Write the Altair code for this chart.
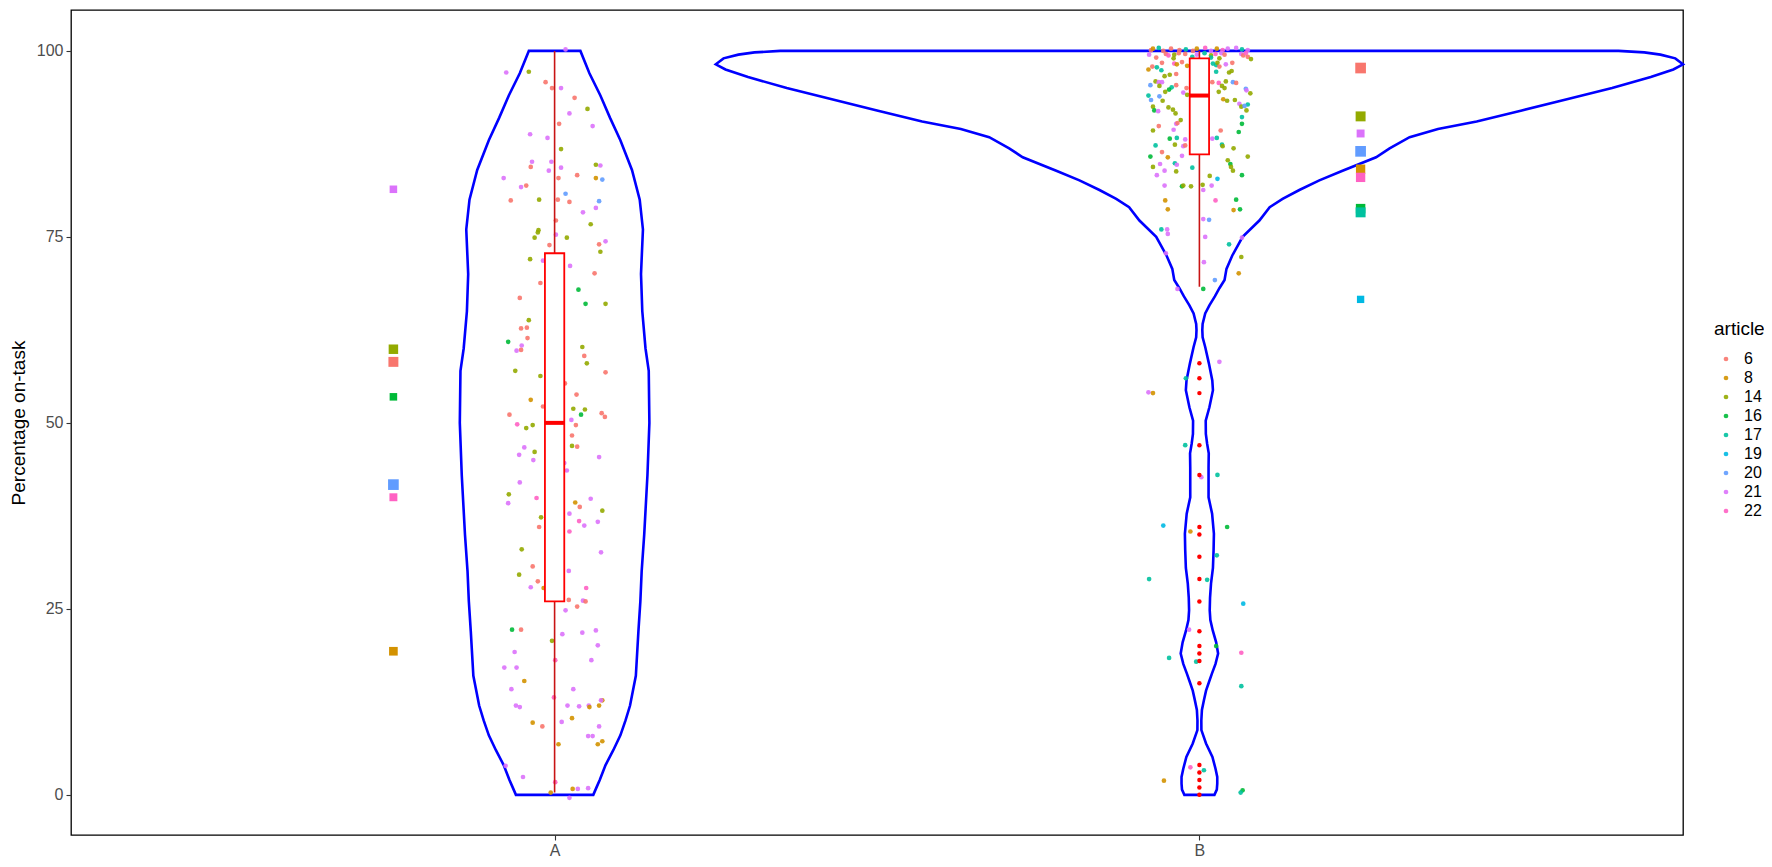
import altair as alt
import pandas as pd

# ---------------- data ----------------
ARTICLES = ["6", "8", "14", "16", "17", "19", "20", "21", "22"]
PALETTE = ["#F8766D", "#D39200", "#93AA00", "#00BA38", "#00C19F",
           "#00B9E3", "#619CFF", "#DB72FB", "#FF61C3"]
GROUPS = ["A", "B"]
GROUP_POS = [1, 2]

# jittered observations, group A
A_value = [100.2, 97.1, 97.2, 95.8, 95.0, 95.0, 93.7, 92.2, 91.6, 90.2, 89.9, 88.8, 88.3, 86.8,
           85.1, 85.1, 84.4, 84.7, 84.6, 83.9, 84.3, 82.9, 82.9, 83.3, 82.9, 82.7, 81.7, 81.9,
           79.9, 80.0, 80.8, 80.0, 79.7, 79.8, 78.3, 78.9, 77.2, 76.7, 75.9, 75.6, 74.9, 75.3,
           74.9, 73.9, 74.0, 74.4, 73.0, 72.0, 71.8, 71.1, 70.1, 68.8, 67.9, 66.8, 66.0, 66.0,
           63.8, 62.7, 62.8, 61.4, 60.9, 60.4, 59.7, 59.8, 60.2, 59.0, 58.0, 57.0, 56.8, 56.3,
           55.3, 53.8, 53.1, 52.2, 51.9, 51.8, 51.1, 51.3, 50.8, 51.1, 49.8, 49.3, 49.7, 50.4,
           49.7, 48.3, 46.9, 46.8, 46.7, 46.1, 45.7, 45.0, 45.4, 44.6, 43.6, 42.0, 40.4, 39.2,
           39.9, 39.8, 39.3, 38.7, 38.2, 37.8, 37.3, 36.8, 36.7, 36.2, 36.0, 35.4, 33.0, 32.6,
           30.7, 30.1, 29.6, 28.7, 27.9, 27.8, 27.8, 26.2, 26.1, 26.0, 25.3, 24.8, 22.2, 22.2,
           21.6, 21.8, 22.1, 20.7, 20.1, 19.2, 18.1, 18.1, 17.1, 17.1, 15.3, 14.2, 14.2, 13.1,
           12.0, 11.8, 12.0, 11.9, 12.0, 11.8, 12.0, 12.7, 12.7, 10.3, 9.7, 9.2, 9.8, 9.2,
           6.8, 7.9, 7.9, 6.8, 7.2, 3.9, 2.4, 1.7, 0.3, 0.8, 0.8, 0.9, -0.4]
A_jitter = [0.017, -0.075, -0.040, -0.014, -0.004, 0.010, 0.031, 0.051, 0.023, 0.007, 0.059, -0.038, -0.011, 0.010,
            -0.035, -0.005, -0.037, 0.064, 0.071, -0.009, 0.010, -0.079, 0.006, 0.035, 0.064, 0.074, -0.052, -0.044,
            -0.068, -0.024, 0.017, 0.005, 0.023, 0.069, 0.044, 0.064, 0.002, 0.056, -0.025, -0.026, -0.031, 0.002,
            0.019, -0.008, 0.069, 0.079, 0.071, -0.038, -0.018, 0.024, 0.062, -0.022, 0.037, -0.054, 0.048, 0.079,
            -0.040, -0.052, -0.043, -0.042, -0.072, -0.051, -0.059, -0.052, 0.043, 0.046, 0.050, -0.061, 0.079, -0.022,
            0.016, 0.034, -0.037, -0.018, 0.029, 0.047, 0.041, 0.073, 0.078, -0.070, -0.058, -0.044, -0.034, 0.026,
            0.033, 0.027, 0.027, 0.035, -0.047, -0.031, -0.055, -0.033, 0.069, 0.015, 0.019, -0.054, -0.071, -0.072,
            -0.028, 0.056, 0.032, 0.039, 0.074, 0.023, -0.021, 0.038, 0.067, 0.046, -0.024, 0.023, -0.051, 0.072,
            -0.034, 0.022, -0.055, -0.026, -0.037, -0.017, 0.049, 0.022, 0.044, 0.048, 0.035, 0.017, -0.066, -0.052,
            0.012, 0.043, 0.064, -0.004, 0.067, -0.062, 0.001, 0.057, -0.078, -0.059, -0.047, -0.067, 0.029, -0.001,
            -0.060, -0.054, 0.020, 0.038, 0.053, 0.054, 0.069, 0.074, 0.072, 0.027, -0.034, -0.019, 0.011, 0.069,
            0.006, 0.052, 0.059, 0.067, 0.074, -0.076, -0.049, 0.001, -0.006, 0.028, 0.036, 0.052, 0.023]
A_article = ["21", "21", "14", "6", "6", "21", "6", "14", "21", "6", "21", "21", "21", "14",
             "21", "21", "6", "14", "21", "21", "21", "21", "6", "6", "8", "20", "21", "6",
             "6", "14", "20", "6", "6", "20", "21", "21", "6", "14", "14", "14", "14", "21",
             "14", "6", "6", "21", "14", "14", "21", "21", "6", "6", "16", "6", "16", "14",
             "14", "6", "6", "6", "16", "21", "21", "6", "14", "6", "14", "14", "6", "14",
             "6", "6", "8", "6", "14", "14", "16", "6", "6", "6", "22", "14", "14", "21",
             "6", "6", "14", "6", "21", "14", "21", "21", "21", "21", "21", "21", "14", "21",
             "22", "21", "8", "6", "14", "21", "14", "22", "21", "21", "6", "22", "14", "21",
             "6", "21", "14", "6", "21", "8", "22", "6", "21", "6", "6", "21", "16", "6",
             "21", "21", "21", "14", "21", "21", "22", "21", "21", "21", "8", "21", "21", "22",
             "21", "21", "21", "21", "21", "8", "8", "8", "21", "8", "8", "6", "21", "21",
             "8", "21", "21", "8", "8", "21", "21", "22", "8", "8", "21", "21", "21"]

# jittered observations, group B
B_value = [100.1, 100.3, 100.4, 100.0, 100.3, 100.1, 100.2, 100.0, 100.3, 100.4, 100.0, 100.3, 100.1, 100.3, 100.4, 100.2, 100.1,
           99.5, 99.6, 99.4, 99.5, 99.7, 99.6, 99.5, 99.7, 99.4, 99.6, 99.7, 99.5, 99.6, 99.4, 99.7,
           99.1, 99.0, 99.2, 99.1, 99.0, 99.2, 98.9,
           98.4, 98.3, 98.2, 98.5, 98.3, 98.1, 98.4, 98.2, 98.4,
           97.9, 97.8, 98.0, 97.9, 97.5, 97.4, 97.2, 97.1, 97.3, 96.9, 96.8, 96.6,
           95.9, 95.8, 95.8, 95.8, 95.7, 95.9, 95.8, 95.7, 95.4, 95.3, 95.4, 95.3,
           95.1, 95.0, 95.1, 95.0, 94.8, 94.9, 94.7, 94.5, 94.4, 94.5, 94.3, 94.0, 93.9, 94.1,
           93.4, 93.3, 93.5, 93.3, 93.4, 92.9, 92.8, 92.5, 92.4, 92.5, 92.6, 92.0, 91.9, 92.1, 92.0,
           91.6, 91.1, 90.7, 90.2, 90.3, 90.2, 89.9, 89.3, 89.4, 89.3, 89.1,
           88.2, 88.3, 88.1, 88.2, 88.3, 87.3, 87.4, 87.2, 87.3, 87.4, 87.2, 86.9, 86.4,
           85.8, 85.7, 85.9, 85.8, 85.3, 84.8, 84.9, 84.7, 84.8, 84.4, 84.3, 84.4, 83.9, 83.8, 83.9,
           83.3, 83.2, 83.3, 82.8, 81.9, 81.8, 81.9, 81.8, 82.0, 81.9, 81.3, 79.9, 79.9, 80.0,
           78.7, 78.6, 78.7, 77.4, 77.3, 76.0, 76.0, 75.4, 75.0, 74.9, 74.0, 72.8, 72.3, 71.6,
           70.1, 69.2, 68.0, 68.0,
           58.2, 56.0, 54.1, 54.0, 47.0, 42.7, 43.0, 36.2, 35.4, 36.0, 32.2, 29.0, 28.9, 25.7,
           22.2, 20.0, 19.1, 18.4, 17.9, 14.6, 3.7, 3.3, 1.9, 0.6, 0.3]
B_jitter = [-0.075, -0.072, -0.063, -0.056, -0.044, -0.031, -0.021, -0.010, -0.004, 0.009, 0.018, 0.027, 0.036, 0.044, 0.057, 0.066, 0.075,
            -0.078, -0.052, -0.048, -0.039, -0.032, -0.022, -0.004, 0.008, 0.018, 0.025, 0.034, 0.039, 0.065, 0.068, 0.072,
            -0.067, -0.040, -0.011, 0.018, 0.031, 0.075, 0.080,
            -0.058, -0.039, -0.035, -0.027, 0.021, 0.026, 0.028, 0.041, 0.051,
            -0.073, -0.066, -0.019, 0.031, -0.079, -0.059, 0.026, 0.046, 0.050, -0.036, -0.046, -0.054,
            -0.068, -0.063, -0.058, 0.020, 0.030, 0.041, 0.052, 0.057, -0.076, -0.062, -0.036, 0.035,
            -0.043, -0.020, -0.008, 0.039, -0.047, 0.072, 0.073, -0.053, -0.025, 0.030, 0.079, -0.079, -0.062, -0.019,
            -0.075, -0.057, 0.037, 0.043, 0.055, 0.062, 0.075, -0.072, -0.048, 0.065, 0.070, -0.070, -0.064, -0.041, 0.073,
            -0.037, 0.066, -0.029, -0.036, -0.034, 0.066, -0.063, -0.072, -0.040, 0.033, 0.061,
            -0.046, -0.035, -0.022, 0.020, 0.027, -0.068, -0.038, -0.025, -0.022, 0.035, 0.036, 0.053, -0.058,
            -0.076, -0.049, -0.027, 0.075, 0.044, -0.061, -0.038, -0.035, 0.048, -0.072, -0.011, 0.049, -0.054, -0.036, 0.052,
            -0.066, 0.016, 0.066, 0.028, -0.054, -0.027, -0.025, -0.013, 0.005, 0.019, 0.006, -0.053, 0.025, 0.057,
            -0.049, 0.053, 0.063, 0.006, 0.015, -0.059, -0.050, -0.049, 0.009, 0.066, 0.046, -0.052, 0.065, 0.007,
            0.061, 0.024, -0.034, 0.006,
            0.031, -0.021, -0.079, -0.072, -0.022, 0.003, 0.028, -0.056, -0.014, 0.043, 0.027, -0.078, 0.012, 0.068,
            -0.016, 0.026, 0.065, -0.047, -0.005, 0.065, -0.014, 0.007, -0.055, 0.067, 0.064]
B_article = ["6", "8", "17", "6", "6", "6", "17", "6", "8", "22", "21", "8", "22", "21", "21", "17", "21",
             "21", "6", "22", "14", "6", "6", "21", "17", "14", "22", "21", "6", "21", "6", "22",
             "6", "14", "17", "17", "14", "6", "14",
             "6", "22", "8", "6", "17", "17", "14", "21", "6",
             "6", "17", "8", "6", "8", "17", "17", "14", "14", "6", "14", "14",
             "14", "21", "21", "6", "22", "14", "20", "6", "20", "14", "6", "14",
             "17", "6", "6", "14", "16", "20", "21", "14", "21", "14", "14", "17", "20", "14",
             "20", "14", "8", "14", "14", "21", "17", "14", "14", "14", "20", "16", "21", "14", "14",
             "14", "17", "14", "21", "6", "16", "6", "14", "21", "6", "16",
             "16", "17", "21", "21", "17", "17", "14", "21", "6", "17", "14", "14", "6",
             "16", "8", "21", "14", "14", "21", "17", "21", "16", "14", "17", "14", "21", "14", "14",
             "21", "14", "16", "19", "21", "16", "14", "14", "14", "21", "21", "8", "22", "16",
             "8", "8", "16", "21", "20", "17", "21", "21", "21", "21", "17", "21", "14", "21",
             "8", "20", "21", "16",
             "21", "17", "21", "8", "17", "21", "17", "19", "8", "16", "17", "17", "17", "19",
             "21", "16", "22", "17", "17", "17", "22", "17", "8", "16", "17"]

# boxplot statistics per group (A, B)
BOX_Q1 = [26.0, 86.1]
BOX_MED = [50.0, 94.0]
BOX_Q3 = [72.8, 99.0]
BOX_LO = [0.3, 68.3]
BOX_HI = [100.0, 100.0]
B_OUTLIERS = [58, 56, 54, 47, 43, 36, 35, 32, 29, 26, 22, 20, 19, 18, 15, 4, 3, 2, 1, 0]

# violin outlines: value levels and half-widths (density, in x units)
VA_y = [0, 1, 2, 4, 6, 8, 10, 12, 16, 22, 26, 30, 35, 43, 50, 57, 60, 65, 70, 76, 80, 84, 88, 91, 94, 97, 100]
VA_w = [0.060, 0.065, 0.070, 0.079, 0.091, 0.102, 0.110, 0.117, 0.126, 0.130, 0.133, 0.135, 0.139, 0.144,
        0.147, 0.146, 0.141, 0.136, 0.134, 0.137, 0.132, 0.120, 0.102, 0.086, 0.071, 0.054, 0.040]
VB_y = [0, 0.7, 1.5, 2.4, 3.5, 5.1, 6.9, 8.7, 10, 11.4, 12.7, 14, 15.2, 16.3, 17.6, 19, 20.5, 22.1, 23.5,
        24.8, 26.5, 28.4, 30.5, 32.9, 35.1, 37.8, 40, 42.3, 44, 45.9, 47.2, 48.5, 50.3, 52.1, 54.4, 55.7,
        58, 60.2, 61.5, 62.5, 63.3, 64.7, 65.8, 67, 68.1, 69.2, 70.7, 72.5, 75, 77.2, 79, 80.1, 81.3,
        82.6, 83.9, 85.7, 86.9, 88.4, 89.5, 90.5, 92, 93.5, 95, 96.5, 97.5, 98.2, 99, 99.5, 99.8, 100]
VB_w = [0.0233, 0.027, 0.0277, 0.0277, 0.025, 0.0202, 0.0103, 0.0031, 0.0030, 0.0039, 0.007, 0.0103,
        0.015, 0.0194, 0.025, 0.029, 0.026, 0.0207, 0.017, 0.016, 0.0165, 0.018, 0.021, 0.022, 0.0225,
        0.0197, 0.0142, 0.0142, 0.0142, 0.0145, 0.012, 0.010, 0.0098, 0.0155, 0.021, 0.020, 0.0147,
        0.009, 0.005, 0.0045, 0.005, 0.009, 0.0155, 0.024, 0.031, 0.039, 0.042, 0.051, 0.067, 0.093,
        0.109, 0.129, 0.155, 0.186, 0.222, 0.274, 0.295, 0.326, 0.37, 0.43, 0.50, 0.57, 0.64, 0.70,
        0.735, 0.750, 0.738, 0.715, 0.69, 0.65]

# per-article summary squares
SQ_group = ["A"] * 7 + ["B"] * 9
SQ_article = ["21", "14", "6", "16", "20", "22", "8",
              "6", "14", "21", "20", "8", "22", "16", "17", "19"]
SQ_value = [81.4, 59.9, 58.2, 53.5, 41.7, 40.0, 19.3,
            97.7, 91.2, 88.9, 86.5, 84.1, 83.0, 78.8, 78.3, 66.6]
SQ_weight = [19, 30, 33, 19, 38, 21, 25,
             38, 33, 21, 38, 29, 29, 30, 33, 18]

# ---------------- build tables ----------------
pos = dict(zip(GROUPS, GROUP_POS))
SQ_SIDE = {"A": -0.25, "B": 0.25}
BOX_HALF = 0.015

points = pd.concat([
    pd.DataFrame({"value": A_value, "xpos": [pos["A"] + j for j in A_jitter], "article": A_article}),
    pd.DataFrame({"value": B_value, "xpos": [pos["B"] + j for j in B_jitter], "article": B_article}),
], ignore_index=True)

violin = pd.concat([
    pd.DataFrame({"group": "A", "value": VA_y,
                  "lo": [pos["A"] - w for w in VA_w], "hi": [pos["A"] + w for w in VA_w]}),
    pd.DataFrame({"group": "B", "value": VB_y,
                  "lo": [pos["B"] - w for w in VB_w], "hi": [pos["B"] + w for w in VB_w]}),
], ignore_index=True)

box = pd.DataFrame({"group": GROUPS, "pos": GROUP_POS, "q1": BOX_Q1, "med": BOX_MED,
                    "q3": BOX_Q3, "lo": BOX_LO, "hi": BOX_HI})
box["left"] = box["pos"] - BOX_HALF
box["right"] = box["pos"] + BOX_HALF

outl = pd.DataFrame({"value": B_OUTLIERS, "xpos": pos["B"]})

squares = pd.DataFrame({"group": SQ_group, "article": SQ_article, "value": SQ_value,
                        "weight": SQ_weight})
squares["xpos"] = [pos[g] + SQ_SIDE[g] for g in SQ_group]

# ---------------- scales / axes ----------------
FONT = "Liberation Sans"
XS = alt.Scale(domain=[0.25, 2.75], nice=False, zero=False)
YS = alt.Scale(domain=[-5.4, 105.5], nice=False, zero=False)
XA = alt.Axis(values=GROUP_POS, labelExpr="['A','B'][datum.value - 1]", title=None,
              grid=False, domain=False, tickSize=5, tickColor="#333333", tickWidth=1.1,
              labelFontSize=16, labelColor="#4D4D4D", labelPadding=2, labelFont=FONT)
YA = alt.Axis(values=[0, 25, 50, 75, 100], title="Percentage on-task", grid=False,
              domain=False, tickSize=5, tickColor="#333333", tickWidth=1.1,
              labelFontSize=16, labelColor="#4D4D4D", labelPadding=3, labelFont=FONT,
              titleFontSize=19, titleFontWeight="normal", titleColor="black",
              titleFont=FONT, titlePadding=8)


def X(f):
    return alt.X(f, type="quantitative", scale=XS, axis=XA)


def Y(f):
    return alt.Y(f, type="quantitative", scale=YS, axis=YA)


color_scale = alt.Scale(domain=ARTICLES, range=PALETTE)

violin_layer = alt.Chart(violin).mark_area(
    orient="horizontal", fillOpacity=0, stroke="#0000FF", strokeWidth=2.6
).encode(y=Y("value"), x=X("lo"), x2="hi", detail="group:N")

point_layer = alt.Chart(points).mark_circle(size=22, opacity=0.9).encode(
    x=X("xpos"), y=Y("value"),
    color=alt.Color("article:N", scale=color_scale, sort=ARTICLES,
                    legend=alt.Legend(title="article", orient="none", legendX=1643, legendY=310,
                                      titleFontSize=19, titleFontWeight="normal", titleColor="black",
                                      titleFont=FONT, labelFont=FONT, labelFontSize=16,
                                      labelColor="black", symbolType="circle", symbolSize=22,
                                      symbolStrokeWidth=0, rowPadding=3, titlePadding=12,
                                      labelOffset=10, symbolOffset=4, padding=0)),
)

whisker_layer = alt.Chart(box).mark_rule(color="#C81414", strokeWidth=1.6).encode(
    x=X("pos"), y=Y("lo"), y2="hi")

box_layer = alt.Chart(box).mark_rect(fill="white", stroke="#FF0000", strokeWidth=1.8).encode(
    x=X("left"), x2="right", y=Y("q1"), y2="q3")

median_layer = alt.Chart(box).mark_rule(color="#FF0000", strokeWidth=4).encode(
    x=X("left"), x2="right", y=Y("med"))

outlier_layer = alt.Chart(outl).mark_circle(size=20, color="#FF0000", opacity=1).encode(
    x=X("xpos"), y=Y("value"))

square_layer = alt.Chart(squares).mark_square(opacity=1).encode(
    x=X("xpos"), y=Y("value"),
    color=alt.Color("article:N", scale=color_scale, legend=None),
    size=alt.Size("weight:Q", scale=alt.Scale(domain=[0, 40], range=[0, 120]), legend=None),
)

chart = alt.layer(
    violin_layer, point_layer, whisker_layer, box_layer, median_layer, outlier_layer, square_layer
).resolve_scale(color="independent").properties(
    width=1612, height=825,
    autosize=alt.AutoSizeParams(type="none"),
    padding={"left": 63, "top": 2, "right": 81, "bottom": 22},
).configure(font=FONT, background="white").configure_view(stroke="black", strokeWidth=1.3)

chart.save("out.html", embed_options={"renderer": "svg", "actions": False})
